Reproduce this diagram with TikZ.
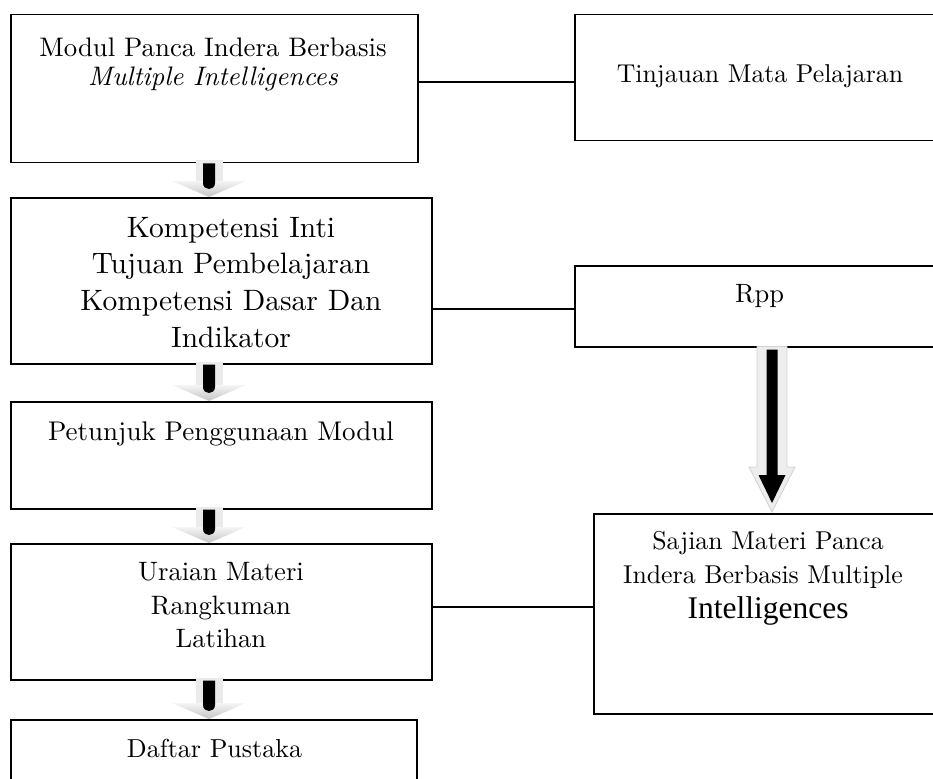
\documentclass[tikz,border=0pt]{standalone}
\usepackage{fontspec}
\setmainfont{lmroman10-regular.otf}[ItalicFont=lmroman10-italic.otf, BoldFont=lmroman10-bold.otf]
\newfontfamily\timesf{Liberation Serif}
\usetikzlibrary{calc}
\newcommand\fsz[1]{\fontsize{#1}{#1}\selectfont}
\newcommand\flowarrow[2]{%
  \path let \p1=(#1), \p2=(#2) in
    [fill=gray!16] (\x1-13.5pt,\y1+3pt) rectangle (\x1+13.5pt,\y2+16pt);
  \path let \p1=(#1), \p2=(#2) in
    [top color=gray!8, bottom color=gray!45] (\x1-37pt,\y2+16pt) -- (\x1+37pt,\y2+16pt) -- (\x1,\y2) -- cycle;
  \path let \p1=(#1), \p2=(#2) in
    [fill=black] (\x1-6pt,\y1) -- (\x1-6pt,\y2+14pt) .. controls (\x1-6pt,\y2+6pt) and (\x1+6pt,\y2+6pt) .. (\x1+6pt,\y2+14pt) -- (\x1+6pt,\y1) -- cycle;%
}
\begin{document}
\begin{tikzpicture}[x=1pt,y=-1pt,
  box/.style={draw, line width=1.5pt, inner sep=0pt, anchor=north west, fill=white},
  link/.style={line width=1.2pt},
  txt/.style={anchor=base, inner sep=0pt}]
\useasboundingbox (0,0) rectangle (933,778);
\clip (0,0) rectangle (933,778);
% boxes
\node[box, minimum width=407pt, minimum height=148pt] (b1) at (10,14) {};
\node[box, minimum width=380pt, minimum height=126pt] (tinj) at (574,14) {};
\node[box, minimum width=421pt, minimum height=166pt] (b2) at (10,197) {};
\node[box, minimum width=380pt, minimum height=81pt] (rpp) at (574,265) {};
\node[box, minimum width=421pt, minimum height=107pt] (b3) at (10,401) {};
\node[box, minimum width=421pt, minimum height=136pt] (b4) at (10,543) {};
\node[box, minimum width=406pt, minimum height=80pt] (b5) at (10,719) {};
\node[box, minimum width=360pt, minimum height=200pt] (saj) at (593,513) {};
% texts
\node[txt] (t1a) at (213,57) {\fsz{26.8}Modul Panca Indera Berbasis};
\node[txt] (t1b) at (213,86) {\fsz{26.8}\itshape Multiple Intelligences};
\node[txt] (tt) at (760,83) {\fsz{25.8}Tinjauan Mata Pelajaran};
\node[txt] (t2a) at (231,237) {\fsz{29.5}Kompetensi Inti};
\node[txt] (t2b) at (231,273) {\fsz{29.5}Tujuan Pembelajaran};
\node[txt] (t2c) at (231,310) {\fsz{29.5}Kompetensi Dasar Dan};
\node[txt] (t2d) at (231,347) {\fsz{29.5}Indikator};
\node[txt] (tr) at (759.5,302) {\fsz{26.5}Rpp};
\node[txt] (t3) at (221,440) {\fsz{27}Petunjuk Penggunaan Modul};
\node[txt] (t4a) at (221,580) {\fsz{26.6}Uraian Materi};
\node[txt] (t4b) at (221,614) {\fsz{26.6}Rangkuman};
\node[txt] (t4c) at (221,647) {\fsz{26.6}Latihan};
\node[txt] (t5) at (214.5,757) {\fsz{26}Daftar Pustaka};
\node[txt] (tsa) at (768,549) {\fsz{25.8}Sajian Materi Panca};
\node[txt] (tsb) at (763,583) {\fsz{25.8}Indera Berbasis Multiple};
\node[txt] (tsc) at (768,618) {\fsz{31.5}\timesf Intelligences};
% connectors
\coordinate (l1) at (0,82);
\coordinate (l2) at (0,309);
\coordinate (l3) at (0,607);
\draw[link] (b1.east |- l1) -- (tinj.west |- l1);
\draw[link] (b2.east |- l2) -- (rpp.west |- l2);
\draw[link] (b4.east |- l3) -- (saj.west |- l3);
% flow arrows
\coordinate (ax) at (209,0);
\flowarrow{ax |- b1.south}{ax |- b2.north}
\flowarrow{ax |- b2.south}{ax |- b3.north}
\flowarrow{ax |- b3.south}{ax |- b4.north}
\flowarrow{ax |- b4.south}{ax |- b5.north}
% big arrow
\coordinate (bx) at (772,0);
\path let \p1=(bx |- rpp.south), \p2=(bx |- saj.north) in
  [fill=gray!14, draw=gray!35, line width=0.8pt]
    (\x1-15pt,\y1+1pt) -- (\x1-15pt,\y2+46pt) -- (\x1-23pt,\y2+46pt) -- (\x1,\y2+1pt)
    -- (\x1+23pt,\y2+46pt) -- (\x1+15pt,\y2+46pt) -- (\x1+15pt,\y1+1pt) -- cycle;
\path let \p1=(bx |- rpp.south), \p2=(bx |- saj.north) in
  [fill=black]
    (\x1-5.5pt,\y1-2pt) -- (\x1-5.5pt,\y2+38pt) -- (\x1-13.5pt,\y2+38pt) -- (\x1,\y2+10pt)
    -- (\x1+13.5pt,\y2+38pt) -- (\x1+5.5pt,\y2+38pt) -- (\x1+5.5pt,\y1-2pt) -- cycle;
\end{tikzpicture}
\end{document}
